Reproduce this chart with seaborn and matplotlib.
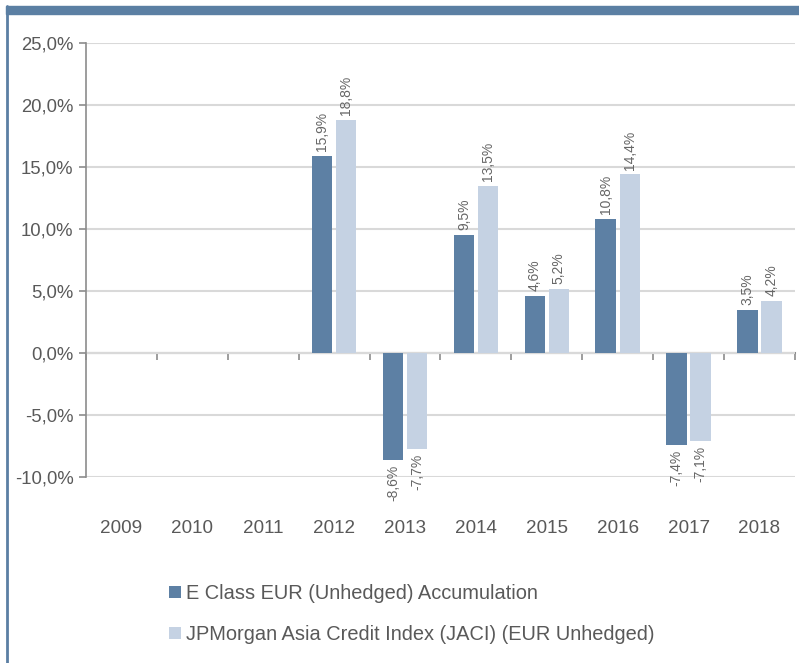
import pandas as pd
import matplotlib
matplotlib.use('Agg')
import matplotlib.pyplot as plt
import seaborn as sns
from matplotlib.patches import Rectangle
from matplotlib.lines import Line2D

sns.set_style("white")
plt.rcParams['font.family'] = ['Liberation Sans', 'DejaVu Sans']

# Data (annual returns, %)
years = ['2009', '2010', '2011', '2012', '2013', '2014', '2015', '2016', '2017', '2018']
fund = [None, None, None, 15.9, -8.6, 9.5, 4.6, 10.8, -7.4, 3.5]
index = [None, None, None, 18.8, -7.7, 13.5, 5.2, 14.4, -7.1, 4.2]
series_names = ['E Class EUR (Unhedged) Accumulation',
                'JPMorgan Asia Credit Index (JACI) (EUR Unhedged)']
yticks = [-10, -5, 0, 5, 10, 15, 20, 25]

dark = '#5d80a4'
light = '#c5d2e3'
text_col = '#595959'
axis_col = '#8c8c8c'

rows = []
for y, a, b in zip(years, fund, index):
    if a is not None:
        rows.append({'year': y, 'series': series_names[0], 'value': a})
    if b is not None:
        rows.append({'year': y, 'series': series_names[1], 'value': b})
df = pd.DataFrame(rows)

fig = plt.figure(figsize=(7.99, 6.63), dpi=100)
ax = fig.add_axes([0.1076, 0.2805, 0.995 - 0.1076, 0.9351 - 0.2805])

sns.barplot(data=df, x='year', y='value', hue='series', order=years,
            hue_order=series_names, palette=[dark, light], saturation=1,
            width=0.68, gap=0.15, linewidth=0, ax=ax)

# data labels
for cont, name in zip(ax.containers, series_names):
    vals = df.loc[df['series'] == name, 'value'].tolist()
    labels = [f"{v:.1f}%".replace('.', ',') for v in vals]
    ax.bar_label(cont, labels=labels, rotation=90, padding=3.5,
                 fontsize=10, color='#666666')

ax.set_ylim(-10, 25)
ax.set_xlim(-0.5, len(years) - 0.5)
ax.set_yticks(yticks)
ax.set_yticklabels([f"{v:.1f}%".replace('.', ',') for v in yticks],
                   fontsize=13.3, color=text_col)
ax.yaxis.grid(True, color='#d9d9d9', linewidth=1.5)
ax.set_axisbelow(True)
ax.tick_params(axis='y', length=5, width=1.2, color=axis_col, left=True, pad=4)
ax.tick_params(axis='x', length=0, pad=31, labelsize=13.6, labelcolor=text_col)
ax.set_xlabel('')
ax.set_ylabel('')

for s in ['top', 'right', 'bottom']:
    ax.spines[s].set_visible(False)
ax.spines['left'].set_color(axis_col)
ax.spines['left'].set_linewidth(1.2)

# zero axis with category boundary ticks
sec = ax.secondary_xaxis(10 / 35)
sec.spines['bottom'].set_color(axis_col)
sec.spines['bottom'].set_linewidth(1.5)
sec.set_xticks([i - 0.5 for i in range(len(years) + 1)])
sec.tick_params(axis='x', direction='out', length=5, width=1.2,
                color=axis_col, labelbottom=False)

# legend below the plot
leg = ax.get_legend()
handles = leg.legend_handles
labels = [t.get_text() for t in leg.get_texts()]
leg.remove()
fig.legend(handles, labels, loc='upper left',
           bbox_to_anchor=(151 / 799, 1 - 566 / 663), frameon=False,
           fontsize=14.4, labelcolor=text_col, handlelength=0.6,
           handleheight=0.6, handletextpad=0.25, labelspacing=1.1)

# frame decoration: top band and left edge
fig.patches.append(Rectangle((6 / 799, 1 - 14 / 663), 1 - 6 / 799, 8 / 663,
                             transform=fig.transFigure, color='#5b7fa3'))
fig.lines.append(Line2D([7 / 799, 7 / 799], [0, 1 - 6 / 663],
                        transform=fig.transFigure, color='#5b7fa3', linewidth=2))

fig.savefig('out.png', dpi=100)
